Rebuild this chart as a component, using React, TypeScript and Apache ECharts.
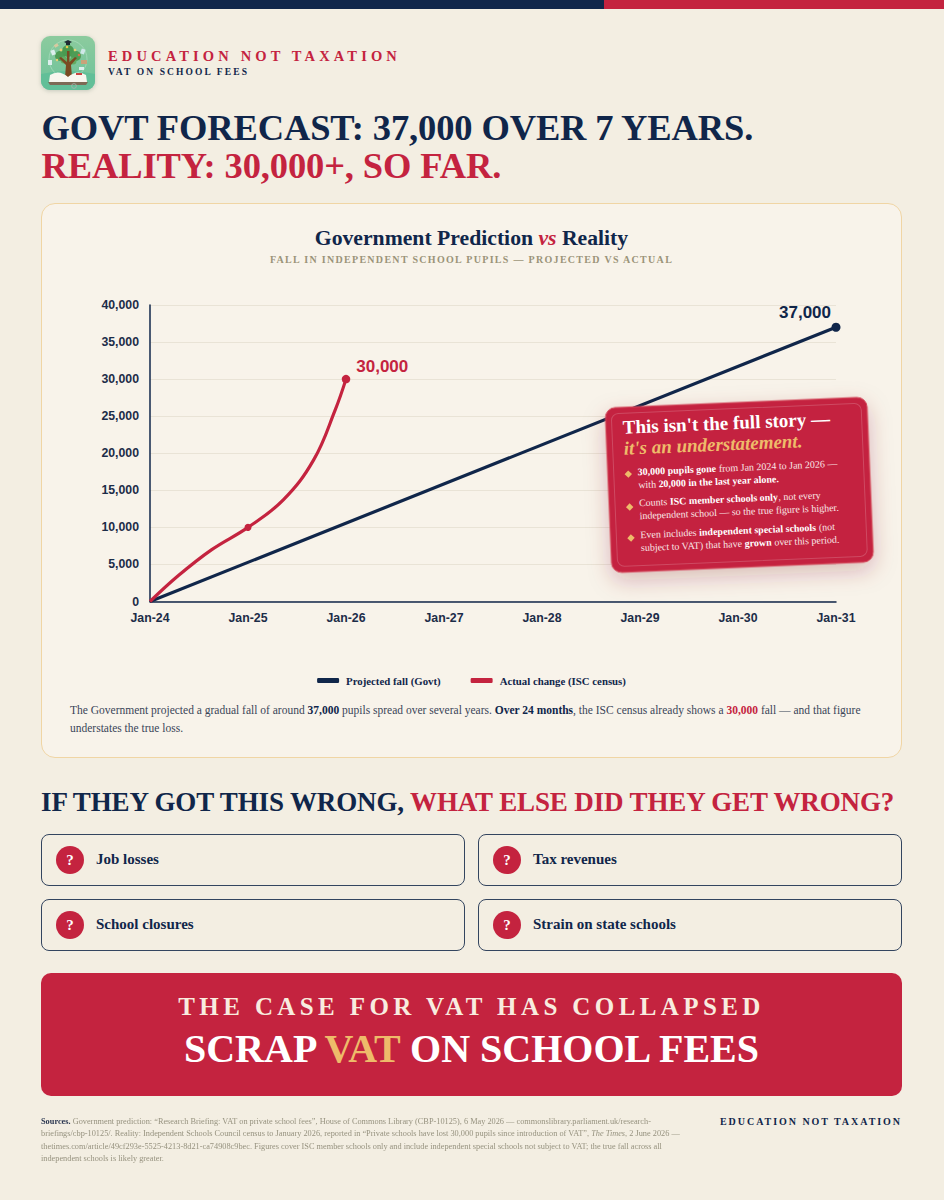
import { useEffect, useRef } from "react";
import * as echarts from "echarts";

const NAVY = "#10264a";
const RED = "#c4233f";
const GOLD = "#eebb6a";
const PAGE = "#f3eee2";
const CARD = "#f8f3ea";
const SERIF = '"Liberation Serif", serif';
const SANS = '"Liberation Sans", sans-serif';

const months = ["Jan-24", "Jan-25", "Jan-26", "Jan-27", "Jan-28", "Jan-29", "Jan-30", "Jan-31"];
// years since Jan-24
const projectedYears = [0, 7];
const projectedValues = [0, 37000];
const actualYears = [0, 0.29, 0.63, 1, 1.36, 1.67, 1.89, 2];
const actualValues = [0, 3500, 7000, 10000, 13700, 19100, 25850, 30000];

const boxRows = [
  ["Job losses", "Tax revenues"],
  ["School closures", "Strain on state schools"],
];

const calloutLines = [
  "{b|30,000 pupils gone} from Jan 2024 to Jan 2026 —",
  "with {b|20,000 in the last year alone.}",
  "Counts {b|ISC member schools only}, not every",
  "independent school — so the true figure is higher.",
  "Even includes {b|independent special schools} (not",
  "subject to VAT) that have {b|grown} over this period.",
];
const calloutLineY = [65, 78, 96, 109, 128, 141];
const diamondY = [67, 100, 131];

function actualPoint(i: number) {
  const point = [actualYears[i], actualValues[i]];
  if (actualYears[i] === 1) return { value: point, symbol: "circle", symbolSize: 7 };
  if (actualYears[i] === 2) {
    return {
      value: point,
      symbol: "circle",
      symbolSize: 8.5,
      label: {
        show: true,
        formatter: "30,000",
        position: "right" as const,
        offset: [1, -13],
        fontFamily: SANS,
        fontSize: 17,
        fontWeight: "bold" as const,
        color: RED,
      },
    };
  }
  return point;
}

function buildOption(): echarts.EChartsOption {
  const axisFont = { fontFamily: SANS, fontSize: 12.3, fontWeight: "bold" as const, color: "#1c2c48" };

  return {
    animation: false,
    backgroundColor: "transparent",
    textStyle: { fontFamily: SANS },
    title: {
      text: "{n|Government Prediction }{v|vs}{n| Reality}",
      left: "center",
      top: 19,
      textStyle: {
        rich: {
          n: { fontFamily: SERIF, fontSize: 21.7, fontWeight: "bold", color: NAVY },
          v: { fontFamily: SERIF, fontSize: 21.7, fontWeight: "bold", fontStyle: "italic", color: RED },
        },
      },
    },
    legend: {
      top: 467,
      left: "center",
      itemWidth: 22,
      itemHeight: 5,
      itemGap: 30,
      icon: "roundRect",
      textStyle: { fontFamily: SERIF, fontSize: 10.8, fontWeight: "bold", color: NAVY, padding: [0, 0, 0, 2] },
    },
    grid: { left: 109, right: 66, top: 102, height: 296.5 },
    xAxis: {
      type: "value",
      min: 0,
      max: 7,
      interval: 1,
      axisLine: { lineStyle: { color: NAVY, width: 1.5 } },
      axisTick: { show: false },
      axisLabel: { ...axisFont, margin: 10, formatter: (v: number) => months[v] },
      splitLine: { show: false },
    },
    yAxis: {
      type: "value",
      min: 0,
      max: 40000,
      interval: 5000,
      axisLine: { show: true, lineStyle: { color: NAVY, width: 1.5 } },
      axisTick: { show: false },
      axisLabel: { ...axisFont, margin: 11, formatter: (v: number) => v.toLocaleString("en-GB") },
      splitLine: { lineStyle: { color: "#e9e3d6", width: 1 } },
    },
    series: [
      {
        name: "Projected fall (Govt)",
        type: "line",
        data: [
          [projectedYears[0], projectedValues[0]],
          {
            value: [projectedYears[1], projectedValues[1]],
            symbol: "circle",
            symbolSize: 9,
            label: {
              show: true,
              formatter: "37,000",
              position: "top",
              offset: [-31, 3],
              fontFamily: SANS,
              fontSize: 17,
              fontWeight: "bold",
              color: NAVY,
            },
          },
        ],
        symbol: "none",
        showSymbol: true,
        lineStyle: { color: NAVY, width: 3.2 },
        itemStyle: { color: NAVY },
        z: 2,
      },
      {
        name: "Actual change (ISC census)",
        type: "line",
        data: actualYears.map((_, i) => actualPoint(i)),
        smooth: 0.4,
        symbol: "none",
        showSymbol: true,
        lineStyle: { color: RED, width: 3.2 },
        itemStyle: { color: RED },
        z: 3,
      },
    ],
    graphic: [
      {
        type: "group",
        x: 564,
        y: 205,
        rotation: (2.4 * Math.PI) / 180,
        z: 100,
        children: [
          {
            type: "rect",
            z: 100,
            shape: { x: 0, y: 0, width: 262, height: 165, r: 10 },
            style: {
              fill: RED,
              stroke: "#d44a5c",
              lineWidth: 1,
              shadowBlur: 22,
              shadowColor: "rgba(130,30,45,0.26)",
              shadowOffsetY: 8,
            },
          },
          {
            type: "rect",
            z: 101,
            shape: { x: 6, y: 6, width: 250, height: 153, r: 7 },
            style: { fill: "transparent", stroke: "rgba(255,255,255,0.18)", lineWidth: 1 },
          },
          {
            type: "text",
            z: 102,
            x: 17,
            y: 20,
            style: {
              text: "This isn't the full story —",
              fontFamily: SERIF,
              fontSize: 19,
              fontWeight: "bold",
              fill: "#ffffff",
              verticalAlign: "middle",
            },
          },
          {
            type: "text",
            z: 102,
            x: 17,
            y: 41,
            style: {
              text: "it's an understatement.",
              fontFamily: SERIF,
              fontSize: 19,
              fontWeight: "bold",
              fontStyle: "italic",
              fill: GOLD,
              verticalAlign: "middle",
            },
          },
          ...calloutLines.map((line, i) => ({
            type: "text" as const,
            z: 102,
            x: 30,
            y: calloutLineY[i],
            style: {
              text: line,
              fontFamily: SERIF,
              fontSize: 10,
              fill: "#f9e6e6",
              verticalAlign: "middle" as const,
              rich: {
                b: { fontFamily: SERIF, fontSize: 10, fontWeight: "bold" as const, fill: "#ffffff", verticalAlign: "middle" as const },
              },
            },
          })),
          ...diamondY.map((y) => ({
            type: "polygon" as const,
            z: 102,
            shape: {
              points: [
                [20.5, y - 3.7],
                [24.2, y],
                [20.5, y + 3.7],
                [16.8, y],
              ],
            },
            style: { fill: GOLD },
          })),
        ],
      },
    ],
  };
}

function Chart() {
  const ref = useRef<HTMLDivElement | null>(null);

  useEffect(() => {
    if (!ref.current) return;
    const instance = echarts.init(ref.current, undefined, { renderer: "svg" });
    instance.setOption(buildOption());
    return () => instance.dispose();
  }, []);

  return <div ref={ref} style={{ position: "absolute", left: 41, top: 203, width: 861, height: 555 }} />;
}

function Logo() {
  return (
    <svg width="54" height="54" viewBox="0 0 54 54" style={{ position: "absolute", left: 41, top: 36, filter: "drop-shadow(0 1px 2px rgba(60,90,70,0.25))" }}>
      <defs>
        <linearGradient id="logoBg" x1="0" y1="0" x2="0" y2="1">
          <stop offset="0" stopColor="#8ccb9e" />
          <stop offset="1" stopColor="#6cc29a" />
        </linearGradient>
      </defs>
      <rect width="54" height="54" rx="9" fill="url(#logoBg)" />
      <path d="M0 38 Q27 32 54 38 V45 a9 9 0 0 1 -9 9 H9 a9 9 0 0 1 -9 -9Z" fill="#62bf98" />
      <circle cx="27" cy="23" r="19" fill="none" stroke="#b4e0c6" strokeWidth="0.6" />
      <circle cx="19" cy="20" r="5" fill="#4e9c55" />
      <circle cx="27" cy="15" r="6" fill="#4a9a50" />
      <circle cx="35" cy="20" r="5" fill="#4e9c55" />
      <circle cx="23" cy="24" r="3.5" fill="#63ab62" />
      <circle cx="32" cy="25" r="3.5" fill="#63ab62" />
      <path d="M24 41 L25 29 L18 22 L20 21 L26 26 L26 15 L28.5 15 L28.5 26 L34 21 L36 22 L30 29 L31 41Z" fill="#7a4a22" />
      <circle cx="20" cy="14" r="1.4" fill="#e9cf74" />
      <circle cx="26" cy="11" r="1.3" fill="#eac84f" />
      <circle cx="34" cy="14" r="1.3" fill="#e9cf74" />
      <circle cx="38" cy="19" r="1.3" fill="#d9704a" />
      <circle cx="16" cy="24" r="1.2" fill="#e9cf74" />
      <path d="M23 6 L27 4 L31 6 L27 8Z" fill="#1f2a33" />
      <path d="M25 7 V9 H29 V7" fill="#1f2a33" />
      <rect x="10" y="14" width="4" height="5" fill="#dcefed" transform="rotate(-20 12 16)" />
      <rect x="13" y="8" width="4" height="3" fill="#d8c9a0" transform="rotate(-30 15 9)" />
      <rect x="40" y="13" width="4" height="5" fill="#cfe8e8" transform="rotate(20 42 15)" />
      <rect x="7" y="24" width="4" height="5" fill="#dcefed" />
      <rect x="40" y="24" width="6" height="4" fill="#c9a37a" />
      <rect x="38" y="31" width="5" height="3" fill="#dcefed" />
      <path d="M9 39 Q18 33 27 41 Q36 33 45 39 L46 46 H8Z" fill="#f8f6ee" />
      <path d="M7 46 H47 L45 49 H9Z" fill="#7d6a55" />
      <circle cx="33" cy="50" r="2.4" fill="none" stroke="#a8b6ae" strokeWidth="0.8" />
      <rect x="35" y="37" width="6" height="2" fill="#c9423f" />
    </svg>
  );
}

export default function App() {
  const abs = (left: number, top: number): React.CSSProperties => ({ position: "absolute", left, top, whiteSpace: "nowrap" });

  return (
    <div
      style={{
        position: "fixed",
        inset: 0,
        width: 944,
        height: 1200,
        background: PAGE,
        overflow: "hidden",
        fontFamily: SERIF,
        color: NAVY,
      }}
    >
      <div style={{ position: "absolute", left: 0, top: 0, width: 604, height: 9, background: NAVY }} />
      <div style={{ position: "absolute", left: 604, top: 0, width: 340, height: 9, background: RED }} />

      <Logo />
      <div style={{ ...abs(108, 47), fontSize: 14.5, lineHeight: "18px", fontWeight: 700, letterSpacing: 4.15, color: RED }}>
        EDUCATION NOT TAXATION
      </div>
      <div style={{ ...abs(108, 66), fontSize: 9.5, lineHeight: "12px", fontWeight: 700, letterSpacing: 2.1 }}>
        VAT ON SCHOOL FEES
      </div>

      <div style={{ ...abs(41.5, 109), fontSize: 36.5, lineHeight: "38px", fontWeight: 700, letterSpacing: -0.13 }}>
        GOVT FORECAST: 37,000 OVER 7 YEARS.
        <br />
        <span style={{ color: RED }}>REALITY: 30,000+, SO FAR.</span>
      </div>

      <div
        style={{
          position: "absolute",
          left: 41,
          top: 203,
          width: 861,
          height: 555,
          boxSizing: "border-box",
          background: CARD,
          border: "1.5px solid #f0d5a4",
          borderRadius: 14,
        }}
      />
      <div
        style={{
          position: "absolute",
          left: 41,
          width: 861,
          top: 253,
          textAlign: "center",
          fontSize: 10,
          lineHeight: "13px",
          fontWeight: 700,
          letterSpacing: 1.3,
          color: "#9b9379",
        }}
      >
        FALL IN INDEPENDENT SCHOOL PUPILS — PROJECTED VS ACTUAL
      </div>
      <Chart />
      <div style={{ position: "absolute", left: 70, top: 701, width: 800, fontSize: 11.5, lineHeight: "18px", color: "#3a4558" }}>
        The Government projected a gradual fall of around <b style={{ color: NAVY }}>37,000</b> pupils spread over several years.{" "}
        <b style={{ color: NAVY }}>Over 24 months</b>, the ISC census already shows a <b style={{ color: RED }}>30,000</b> fall — and that figure understates the true loss.
      </div>

      <div style={{ ...abs(41, 785), fontSize: 27, lineHeight: "34px", fontWeight: 700, letterSpacing: -0.13 }}>
        IF THEY GOT THIS WRONG, <span style={{ color: RED }}>WHAT ELSE DID THEY GET WRONG?</span>
      </div>

      {boxRows.map((row, r) =>
        row.map((label, c) => (
          <div
            key={label}
            style={{
              position: "absolute",
              left: c === 0 ? 41 : 478,
              top: 834 + r * 65,
              width: 424,
              height: 52,
              border: "1px solid #33455f",
              borderRadius: 8,
              boxSizing: "border-box",
            }}
          >
            <div
              style={{
                position: "absolute",
                left: 14,
                top: 11,
                width: 28,
                height: 28,
                borderRadius: 14,
                background: RED,
                color: "#fff",
                textAlign: "center",
                lineHeight: "28px",
                fontSize: 15,
                fontWeight: 700,
              }}
            >
              ?
            </div>
            <div style={{ position: "absolute", left: 54, top: 13, fontSize: 15, lineHeight: "22px", fontWeight: 700 }}>{label}</div>
          </div>
        )),
      )}

      <div style={{ position: "absolute", left: 41, top: 973, width: 861, height: 123, background: RED, borderRadius: 10, textAlign: "center" }}>
        <div style={{ position: "absolute", left: 0, right: 0, top: 19, fontSize: 25, lineHeight: "30px", fontWeight: 700, letterSpacing: 4.4, color: "#f8ecdf" }}>
          THE CASE FOR VAT HAS COLLAPSED
        </div>
        <div style={{ position: "absolute", left: 0, right: 0, top: 50, fontSize: 40, lineHeight: "52px", fontWeight: 700, color: "#fff" }}>
          SCRAP <span style={{ color: GOLD }}>VAT</span> ON SCHOOL FEES
        </div>
      </div>

      <div style={{ position: "absolute", left: 41, top: 1116, width: 642, fontSize: 8.3, lineHeight: "12.4px", color: "#96927f", transform: "translateZ(0)" }}>
        <b style={{ color: "#2a3650" }}>Sources.</b> Government prediction: “Research Briefing: VAT on private school fees”, House of Commons Library (CBP-10125), 6 May 2026 — commonslibrary.parliament.uk/research-briefings/cbp-10125/. Reality: Independent Schools Council census to January 2026, reported in “Private schools have lost 30,000 pupils since introduction of VAT”, <i>The Times</i>, 2 June 2026 — thetimes.com/article/49cf293e-5525-4213-8d21-ca74908c9bec. Figures cover ISC member schools only and include independent special schools not subject to VAT; the true fall across all independent schools is likely greater.
      </div>
      <div style={{ position: "absolute", right: 42, top: 1115, fontSize: 10, lineHeight: "13px", fontWeight: 700, letterSpacing: 1.95, whiteSpace: "nowrap" }}>
        EDUCATION NOT TAXATION
      </div>
    </div>
  );
}
